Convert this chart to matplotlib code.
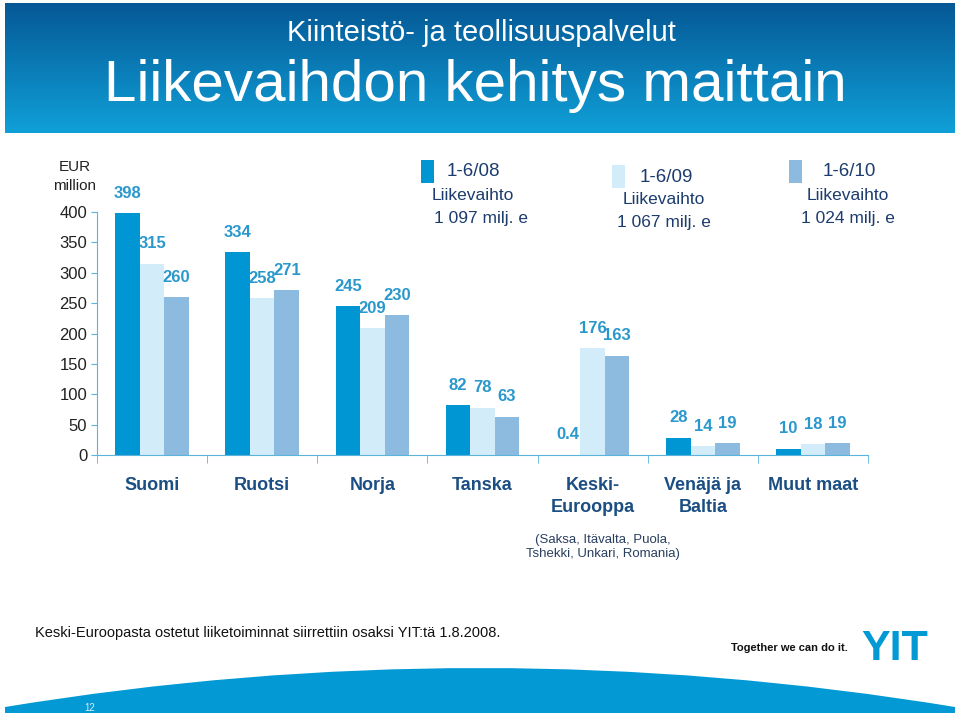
import numpy as np
import matplotlib.pyplot as plt
from matplotlib.patches import Rectangle, PathPatch
from matplotlib.path import Path

# data
categories = ['Suomi', 'Ruotsi', 'Norja', 'Tanska', 'Keski-\nEurooppa', 'Venäjä ja\nBaltia', 'Muut maat']
h1_08 = [398, 334, 245, 82, 0.4, 28, 10]
h1_09 = [315, 258, 209, 78, 176, 14, 18]
h1_10 = [260, 271, 230, 63, 163, 19, 19]
periods = ['1-6/08', '1-6/09', '1-6/10']
totals = ['1 097', '1 067', '1 024']
yticks = [0, 50, 100, 150, 200, 250, 300, 350, 400]

colors = ['#0096d3', '#d3ecf9', '#8dbbdf']
label_col = '#2a98cc'
cat_col = '#1b4e82'
text_col = '#1c3c6e'

W, H = 960, 716
plt.rcParams['font.family'] = ['Liberation Sans', 'DejaVu Sans']
fig = plt.figure(figsize=(W / 100, H / 100), dpi=100)
fig.patch.set_facecolor('white')

def fx(x):
    return x / W

def fy(y):
    return 1 - y / H

# background / decoration axes in pixel coords
bg = fig.add_axes([0, 0, 1, 1])
bg.set_xlim(0, W)
bg.set_ylim(H, 0)
bg.axis('off')

grad = np.linspace(0, 1, 256).reshape(-1, 1)
top = np.array([0x05, 0x58, 0x95]) / 255
bot = np.array([0x10, 0xa0, 0xd8]) / 255
img = top[None, None, :] * (1 - grad[:, :, None]) + bot[None, None, :] * grad[:, :, None]
bg.imshow(img, extent=[5, 955, 133, 3], aspect='auto', zorder=0)

bg.text(481, 33, 'Kiinteistö- ja teollisuuspalvelut', color='white', fontsize=21,
        ha='center', va='center')
bg.text(475, 86, 'Liikevaihdon kehitys maittain', color='white', fontsize=42,
        ha='center', va='center')

# bottom arc
verts = [(5, 713), (5, 707), (480, 629), (955, 707), (955, 713), (5, 713)]
codes = [Path.MOVETO, Path.LINETO, Path.CURVE3, Path.CURVE3, Path.LINETO, Path.CLOSEPOLY]
bg.add_patch(PathPatch(Path(verts, codes), facecolor='#0399d4', edgecolor='none'))
bg.text(90, 708, '12', color='#d8eef9', fontsize=7, ha='center', va='center')

bg.text(35, 633, 'Keski-Euroopasta ostetut liiketoiminnat siirrettiin osaksi YIT:tä 1.8.2008.',
        fontsize=10.5, ha='left', va='center', color='#111111')
bg.text(848, 648, 'Together we can do it.', fontsize=8, fontweight='bold', ha='right',
        va='center', color='#111111')
bg.text(895, 649, 'YIT', fontsize=31, fontweight='heavy', ha='center', va='center',
        color='#0399d4')

bg.text(75, 167, 'EUR', fontsize=11, ha='center', va='center', color='#222222')
bg.text(75, 186, 'million', fontsize=11, ha='center', va='center', color='#222222')

# legend
leg_pos = [(421, 160, 447, 473, 481), (612, 165, 640, 664, 664), (789, 160, 823, 848, 848)]
for (px, py, tx, cx1, cx2), col, per, tot in zip(leg_pos, colors, periods, totals):
    bg.add_patch(Rectangle((px, py), 13, 23, facecolor=col, edgecolor='none'))
    bg.text(tx, py + 12, per, fontsize=13.5, ha='left', va='center', color=text_col)
    bg.text(cx1, py + 35, 'Liikevaihto', fontsize=12.5, ha='center', va='center', color=text_col)
    bg.text(cx2, py + 58, tot + ' milj. e', fontsize=12.5, ha='center', va='center', color=text_col)

bg.text(603, 547, '(Saksa, Itävalta, Puola,\nTshekki, Unkari, Romania)', fontsize=9.5,
        ha='center', va='center', color='#2a3f5f', linespacing=1.3)

# chart
ax = fig.add_axes([fx(97), fy(455), fx(868 - 97), (455 - 212) / H])
x = np.arange(len(categories))
w = 0.223
for i, (vals, col) in enumerate(zip([h1_08, h1_09, h1_10], colors)):
    bars = ax.bar(x + (i - 1) * w, vals, w, color=col, edgecolor='none')
    ax.bar_label(bars, labels=['{:g}'.format(v) for v in vals], padding=9,
                 fontsize=12, fontweight='bold', color=label_col, clip_on=False)

ax.set_xlim(-0.5, len(categories) - 0.5)
ax.set_ylim(0, 400)
ax.set_yticks(yticks)
ax.tick_params(axis='y', labelsize=12, length=4, color='#5ab4dc', pad=3, labelcolor='#222222')
ax.set_xticks(x)
ax.set_xticklabels(categories, fontsize=13, fontweight='bold', color=cat_col, linespacing=1.4)
ax.tick_params(axis='x', length=0, pad=16)
ax.set_xticks(np.arange(-0.5, len(categories)), minor=True)
ax.tick_params(axis='x', which='minor', length=6, color='#5ab4dc')
for s in ['top', 'right']:
    ax.spines[s].set_visible(False)
for s in ['left', 'bottom']:
    ax.spines[s].set_color('#5ab4dc')
ax.set_facecolor('none')

fig.savefig('out.png', dpi=100)
